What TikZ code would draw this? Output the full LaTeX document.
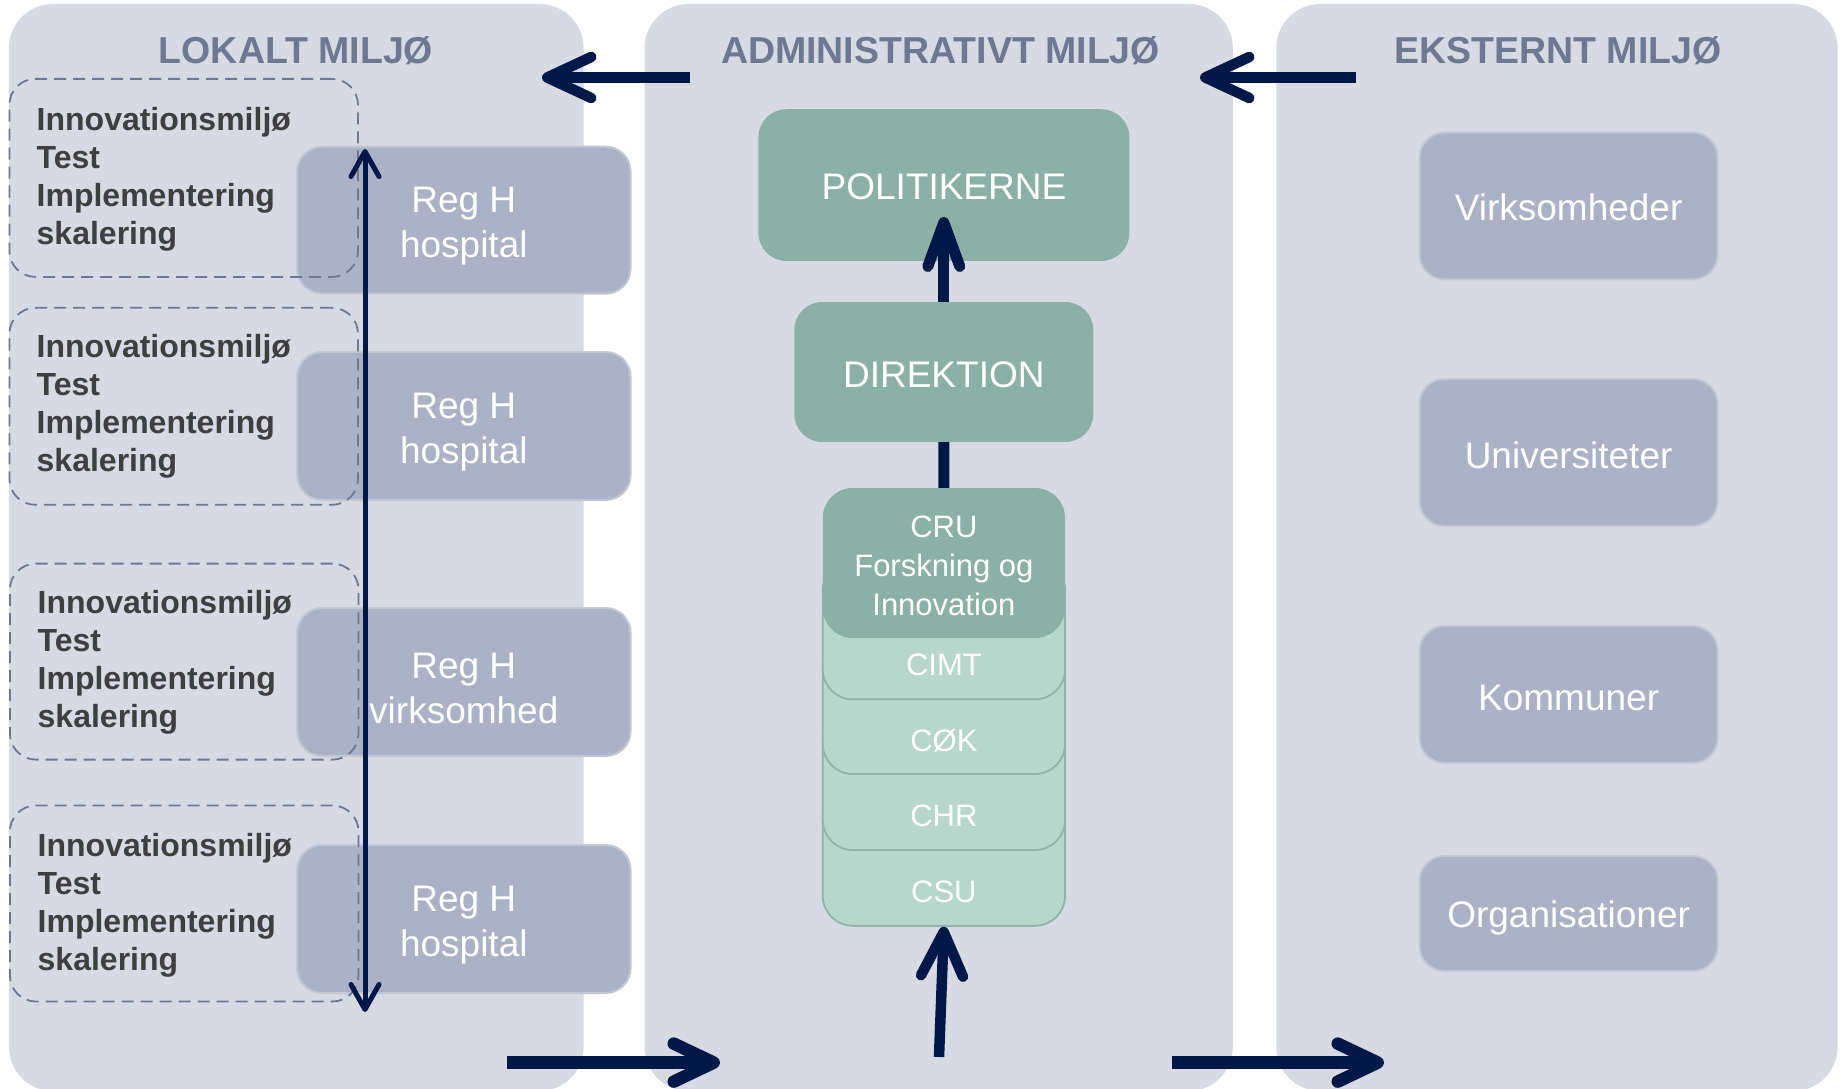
\documentclass[tikz,border=0pt]{standalone}
\usepackage{fontspec}
\setmainfont{Liberation Sans}
\usetikzlibrary{arrows.meta}
\definecolor{panelc}{HTML}{D7DAE2}
\definecolor{titlec}{HTML}{6E7893}
\definecolor{darktext}{HTML}{3F3F3F}
\definecolor{regfill}{HTML}{ABB1C6}
\definecolor{regline}{HTML}{C3C7D4}
\definecolor{greenc}{HTML}{8BB0A6}
\definecolor{lightgreen}{HTML}{B7D7CC}
\definecolor{lightgreenline}{HTML}{8FB5A9}
\definecolor{navy}{HTML}{001848}
\begin{document}
\begin{tikzpicture}[x=1pt,y=-1pt,
  panel/.style={rectangle, fill=panelc, rounded corners=44pt, inner sep=0pt},
  paneltitle/.style={text=titlec, font=\bfseries\fontsize{37.5}{40}\selectfont, inner sep=0pt},
  dbox/.style={rectangle, draw=titlec, line width=1.8pt, dash pattern=on 12pt off 7pt, rounded corners=26pt, inner sep=0pt, minimum width=348.6pt, minimum height=197pt},
  itext/.style={text=darktext, font=\bfseries\fontsize{32}{38}\selectfont, align=left, inner sep=0pt, anchor=west},
  regbox/.style={rectangle, fill=regfill, draw=regline, line width=2pt, rounded corners=25pt, inner sep=0pt},
  wtext/.style={text=white, font=\fontsize{37}{45}\selectfont, align=center, inner sep=0pt},
  gbox/.style={rectangle, fill=greenc, rounded corners=28pt, inner sep=0pt},
  lgbox/.style={rectangle, fill=lightgreen, draw=lightgreenline, line width=1.8pt, rounded corners=30pt, inner sep=0pt, minimum width=242.3pt},
  gtext/.style={text=white, font=\fontsize{31}{38.7}\selectfont, align=center, inner sep=0pt},
  bigarrow/.style={draw=navy, line width=10.5pt, -{Straight Barb[length=44pt,width=41pt,round]}},
  thinarrow/.style={draw=navy, line width=5pt, {Straight Barb[length=25pt,width=28pt,round]}-{Straight Barb[length=25pt,width=28pt,round]}},
  navyline/.style={draw=navy, line width=11pt}
]
\useasboundingbox (0,0) rectangle (1841,1089);
\fill[white] (0,0) rectangle (1841,1089);

% panels
\node[panel, minimum width=574.5pt, minimum height=1087pt] (lpanel) at (296.25,547.5) {};
\node[panel, minimum width=588.2pt, minimum height=1087pt] (mpanel) at (938.7,547.5) {};
\node[panel, minimum width=561.2pt, minimum height=1087pt] (rpanel) at (1556.9,547.5) {};

\node[paneltitle] (ltitle) at (296,50.2) {LOKALT MILJØ};
\node[paneltitle] (mtitle) at (940.5,50.2) {ADMINISTRATIVT MILJØ};
\node[paneltitle] (rtitle) at (1558,50.2) {EKSTERNT MILJØ};

% local: Reg H boxes
\node[regbox, minimum width=333.5pt, minimum height=147pt] (r1) at (463.8,220.2) {};
\node[regbox, minimum width=333.5pt, minimum height=148pt] (r2) at (463.8,426) {};
\node[regbox, minimum width=333.5pt, minimum height=148pt] (r3) at (463.8,682) {};
\node[regbox, minimum width=333.5pt, minimum height=148pt] (r4) at (463.8,919) {};
\node[wtext, yshift=-6pt] (r1t) at (r1) {Reg H\\hospital};
\node[wtext, yshift=-6pt] (r2t) at (r2) {Reg H\\hospital};
\node[wtext, yshift=-6pt] (r3t) at (r3) {Reg H\\virksomhed};
\node[wtext, yshift=-6pt] (r4t) at (r4) {Reg H\\hospital};

% dashed boxes
\node[dbox, minimum height=198pt] (d1) at (183.7,177.9) {};
\node[dbox] (d2) at (183.7,406.3) {};
\node[dbox, minimum height=196pt] (d3) at (184.2,661.6) {};
\node[dbox, minimum height=196pt] (d4) at (184.2,903.5) {};

\node[itext] (t1) at (36.5,179) {Innovationsmiljø\\Test\\Implementering\\skalering};
\node[itext] (t2) at (36.5,406.5) {Innovationsmiljø\\Test\\Implementering\\skalering};
\node[itext] (t3) at (37.5,662.3) {Innovationsmiljø\\Test\\Implementering\\skalering};
\node[itext] (t4) at (37.5,905.2) {Innovationsmiljø\\Test\\Implementering\\skalering};

\coordinate (vtop) at (365,149);
\coordinate (vbot) at (365,1012);
\draw[thinarrow] (vtop) -- (vbot);

% administrative
\node[gbox, minimum width=371pt, minimum height=151.7pt] (pol) at (943.9,185.1) {};
\node[gbox, minimum width=299pt, minimum height=140pt] (dir) at (943.8,372) {};
\node[wtext, yshift=-1.2pt] (polt) at (pol) {POLITIKERNE};
\node[wtext, yshift=-2.3pt] (dirt) at (dir) {DIREKTION};

\node[lgbox, minimum height=145.7pt] (csu) at (943.9,853) {};
\node[lgbox, minimum height=145pt] (chr) at (943.9,777.5) {};
\node[lgbox, minimum height=144pt] (cok) at (943.9,702) {};
\node[lgbox, minimum height=139pt] (cimt) at (943.9,629.8) {};
\node[gbox, minimum width=242.3pt, minimum height=150pt, rounded corners=30pt] (cru) at (943.9,563) {};

\node[gtext] (crut) at (943.9,565.9) {CRU\\Forskning og\\Innovation};
\node[gtext] (cimtt) at (943.9,665.3) {CIMT};
\node[gtext] (cokt) at (943.9,741.2) {CØK};
\node[gtext] (chrt) at (943.9,816.2) {CHR};
\node[gtext] (csut) at (943.9,891.9) {CSU};

\coordinate (poltip) at (943.8,217);
\draw[navyline, -{Straight Barb[length=44pt,width=32pt,round]}] (dir.north) -- (poltip);
\draw[navyline] (cru.north) -- (dir.south);

\coordinate (bstart) at (939,1057);
\draw[bigarrow, -{Straight Barb[length=44pt,width=42pt,round]}] (bstart) -- (csu.south);

% external
\node[regbox, minimum width=298.2pt, minimum height=146.7pt] (e1) at (1568.6,206) {};
\node[regbox, minimum width=298.2pt, minimum height=147pt] (e2) at (1568.6,452.5) {};
\node[regbox, minimum width=298.2pt, minimum height=137pt] (e3) at (1568.6,694.4) {};
\node[regbox, minimum width=298.2pt, minimum height=115pt] (e4) at (1568.6,913.5) {};
\node[wtext, yshift=-1.2pt] (e1t) at (e1) {Virksomheder};
\node[wtext, yshift=-2.3pt] (e2t) at (e2) {Universiteter};
\node[wtext, yshift=-3.5pt] (e3t) at (e3) {Kommuner};
\node[wtext, yshift=-4.7pt] (e4t) at (e4) {Organisationer};

% arrows between panels
\coordinate (a1s) at (690,77.5);
\coordinate (a1e) at (542,77.5);
\coordinate (a2s) at (1356,77.5);
\coordinate (a2e) at (1200,77.5);
\draw[bigarrow] (a1s) -- (a1e);
\draw[bigarrow] (a2s) -- (a2e);

\coordinate (b1s) at (507,1062.6);
\coordinate (b1e) at (720,1062.6);
\coordinate (b2s) at (1171.8,1062.6);
\coordinate (b2e) at (1384,1062.6);
\draw[bigarrow, line width=12.5pt, -{Straight Barb[length=40pt,width=38pt,round]}] (b1s) -- (b1e);
\draw[bigarrow, line width=12.5pt, -{Straight Barb[length=40pt,width=38pt,round]}] (b2s) -- (b2e);
\end{tikzpicture}
\end{document}
